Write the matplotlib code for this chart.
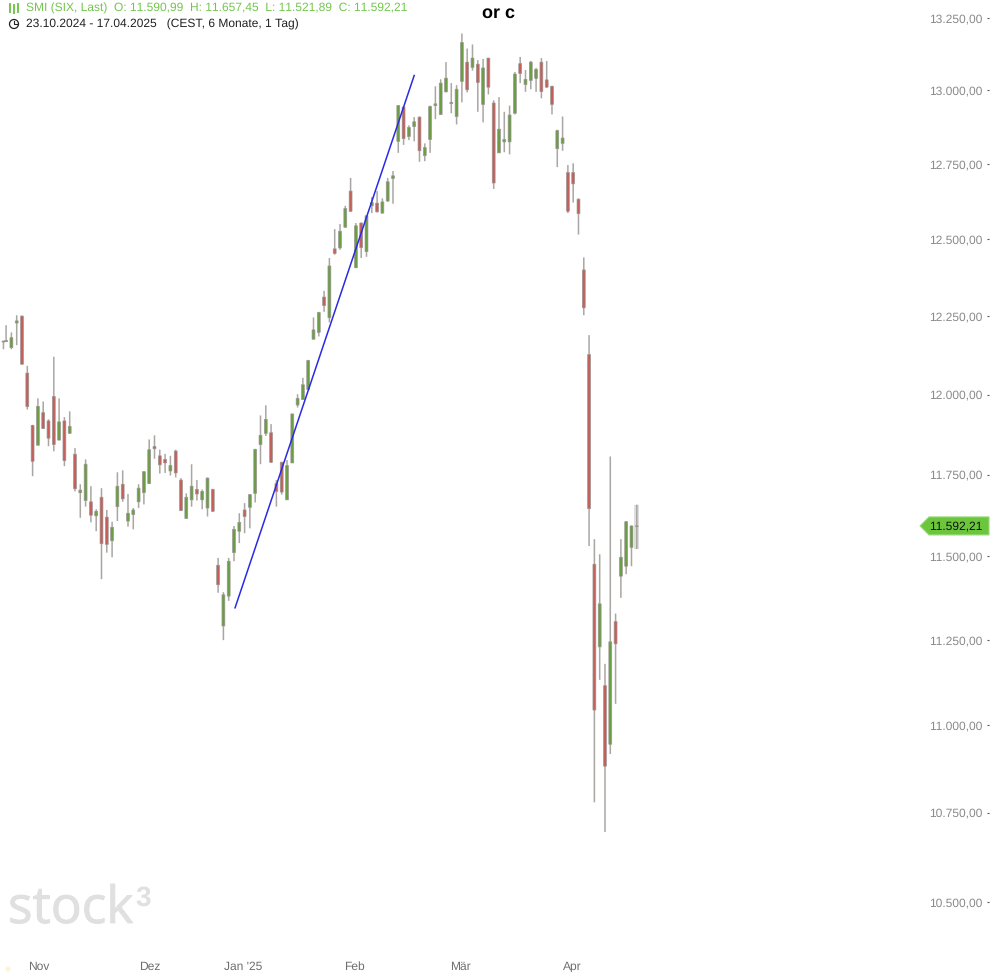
import matplotlib
matplotlib.use('Agg')
import matplotlib.pyplot as plt
import matplotlib.patheffects as pe
from matplotlib.patches import Polygon, Circle
from matplotlib.ticker import NullLocator
import numpy as np

plt.rcParams['font.family'] = ['Liberation Sans', 'DejaVu Sans']
plt.rcParams['text.hinting'] = 'no_hinting'
plt.rcParams['text.hinting_factor'] = 1

# daily candles, Oct 2024 - Apr 2025
opens = [12167,12168,12149,12228,12250,12068,11903,11841,11943,11917,11994,11857,11917,11878,11813,
         11694,11670,11666,11623,11680,11619,11547,11651,11720,11607,11627,11666,11694,11722,11837,
         11808,11797,11761,11823,11733,11615,11672,11704,11672,11647,11704,11473,11291,11380,11511,
         11576,11641,11649,11692,11843,11878,11880,11722,11788,11672,11786,11967,11984,12016,12176,
         12198,12312,12245,12469,12472,12540,12660,12407,12554,12460,12611,12620,12587,12627,12702,
         12827,12943,12843,12877,12909,12779,12833,12948,12918,12995,12955,12911,13031,13097,13079,
         13090,12952,13111,12957,12788,12825,12825,12922,13092,13020,13034,13041,13097,13036,13014,
         12802,12820,12722,12722,12633,12400,12127,11476,11229,11115,10945,11304,11440,11470,11527,
         11590.99]
highs = [12171,12221,12198,12253,12253,12091,11905,11988,11978,11922,12120,11988,11929,11947,11832,
         11720,11797,11714,11643,11708,11641,11605,11757,11763,11690,11647,11720,11759,11859,11872,
         11827,11814,11808,11827,11739,11692,11782,11733,11704,11741,11706,11495,11392,11495,11592,
         11631,11662,11690,11830,11934,11966,11907,11733,11790,11795,11939,12001,12053,12110,12246,
         12264,12332,12439,12534,12551,12611,12704,12554,12556,12578,12640,12660,12636,12704,12727,
         12950,12945,12881,12909,12911,12820,12948,13014,13038,13097,13025,13018,13196,13144,13158,
         13104,13108,13111,12966,12977,12927,12948,13063,13115,13070,13101,13077,13111,13101,13016,
         12866,12911,12747,12753,12636,12441,12189,11552,11506,11179,11806,11328,11552,11607,11594,
         11657.45]
lows = [12144,12168,12144,12157,12096,11953,11745,11841,11893,11838,11822,11857,11776,11878,11698,
        11617,11651,11603,11576,11431,11511,11497,11607,11666,11590,11582,11647,11658,11722,11799,
        11753,11755,11747,11741,11639,11615,11651,11670,11643,11621,11635,11390,11249,11366,11485,
        11540,11570,11585,11664,11782,11870,11786,11651,11688,11672,11786,11959,11984,12016,12176,
        12185,12264,12230,12450,12466,12540,12591,12407,12439,12443,12587,12589,12585,12624,12618,
        12788,12815,12831,12827,12758,12760,12788,12902,12916,12993,12922,12884,12959,12993,13068,
        12927,12891,12986,12667,12788,12790,12783,12918,13025,12995,13004,12995,12973,13009,12918,
        12740,12795,12587,12622,12516,12253,11531,10779,11132,10695,10917,11062,11375,11446,11470,
        11521.89]
closes = [12170,12172,12181,12235,12096,11962,11791,11963,11893,11863,11843,11914,11793,11900,11706,
          11702,11782,11625,11637,11538,11536,11588,11714,11675,11631,11641,11708,11759,11827,11830,
          11780,11786,11778,11755,11639,11680,11714,11690,11698,11739,11637,11414,11384,11485,11582,
          11603,11621,11688,11828,11872,11922,11788,11698,11696,11778,11939,11988,12031,12108,12206,
          12262,12284,12413,12454,12527,12602,12593,12545,12473,12578,12622,12591,12624,12691,12711,
          12948,12836,12874,12893,12795,12806,12945,12954,13025,13042,12959,13004,13165,13002,13111,
          13027,13077,13011,12687,12868,12833,12916,13056,13058,13038,13097,13072,12996,13011,12952,
          12863,12838,12593,12684,12585,12277,11645,11044,11357,10882,11244,11238,11497,11605,11592,
          11592.21]

price_ticks = [10500,10750,11000,11250,11500,11750,12000,12250,12500,12750,13000,13250]
price_labels = ['10.500,00','10.750,00','11.000,00','11.250,00','11.500,00','11.750,00',
                '12.000,00','12.250,00','12.500,00','12.750,00','13.000,00','13.250,00']
month_pos = [7.2, 28, 45.7, 66.8, 86.8, 107.8]
month_labels = ['Nov', 'Dez', "Jan '25", 'Feb', 'Mär', 'Apr']

trend_x = [44.2, 78.0]
trend_y = [11345, 13051]

GREEN = '#6a9e45'
RED = '#c4605c'
WICK = '#aaa6a3'
EDGE = '#9b9692'
W, H = 994, 972

fig = plt.figure(figsize=(W/100, H/100), dpi=100)
ax = fig.add_axes([0, 0, 987/W, 1])

x = np.arange(len(opens), dtype=float)
x[0] = 0.5  # first candle sits at the chart edge
o, h, l, c = map(np.array, (opens, highs, lows, closes))
up = c >= o

# highlight on the running candle
ax.bar(x[-1], h[-1]-l[-1], bottom=l[-1], width=0.95, color='#dedede', linewidth=0, zorder=1)

wicks = ax.vlines(x, l, h, color=WICK, linewidth=1.1, zorder=2)
wicks.set_snap(False)
bodies = ax.bar(x, np.abs(c-o), bottom=np.minimum(o, c), width=0.54,
                color=[GREEN if u else RED for u in up], edgecolor=EDGE, linewidth=0.5, zorder=3)
for b in bodies:
    b.set_snap(False)

ax.plot(trend_x, trend_y, color='#2a2ae6', linewidth=1.1, zorder=4)

ax.set_yscale('log')
ax.set_xlim(-0.151, 186.08)
ax.set_ylim(13250*np.exp(-(972-18)/3800), 13250*np.exp(18/3800))
for s in ax.spines.values():
    s.set_visible(False)

ax.yaxis.tick_right()
ax.set_yticks(price_ticks)
ax.set_yticklabels(price_labels)
ax.yaxis.set_minor_locator(NullLocator())
ax.tick_params(axis='y', length=1.5, width=0.8, color='#555555', labelcolor='#8a8a8a', labelsize=8.5, pad=-5)
for t in ax.get_yticklabels():
    t.set_ha('right')

ax.set_xticks(month_pos)
ax.set_xticklabels(month_labels)
ax.tick_params(axis='x', length=0, labelcolor='#6e6e6e', labelsize=8.7, pad=-8)

# header
LABEL_GREEN = '#74c550'
fig.text(26/W, 1-8/H, 'SMI (SIX, Last)  O: 11.590,99  H: 11.657,45  L: 11.521,89  C: 11.592,21',
         color=LABEL_GREEN, fontsize=8.55, va='center')
fig.text(26/W, 1-24/H, '23.10.2024 - 17.04.2025   (CEST, 6 Monate, 1 Tag)',
         color='#222222', fontsize=8.6, va='center')
fig.text(499/W, 1-13/H, 'or c', color='black', fontsize=13, fontweight='bold', ha='center', va='center')

# little icons in pixel coordinates
for px, y0, y1 in [(10, 4, 12), (14, 5, 13), (18, 4, 12)]:
    fig.add_artist(plt.Line2D([px/W, px/W], [1-y0/H, 1-y1/H], color=LABEL_GREEN, lw=1.4))
fig.add_artist(Circle((14, H-24), 4.5, transform=None, fill=False, ec='#222222', lw=0.9))
fig.add_artist(plt.Line2D([14/W, 14/W, 17/W], [1-21/H, 1-24.5/H, 1-24.5/H], color='#222222', lw=0.8))

# watermark
thick = [pe.withStroke(linewidth=0.6, foreground='#e0e0e0')]
fig.text(8/W, 1-923/H, 'stock', color='#e0e0e0', fontsize=37, va='baseline', family='Open Sans',
         path_effects=thick)
fig.text(135/W, 1-906/H, '3', color='#e0e0e0', fontsize=20, va='baseline', fontweight='bold')
fig.add_artist(Circle((8, H-969), 2.5, transform=None, color='#fdf3d6', lw=0))

# last price tag
fig.canvas.draw()
tag_y = ax.transData.transform((0, closes[-1]))[1]
tag = np.array([[920, tag_y], [929, tag_y+9], [989, tag_y+9], [989, tag_y-9], [929, tag_y-9]])
fig.add_artist(Polygon(tag, closed=True, transform=None, fc='#6cc63c', ec='#9ad97f', lw=0.8))
fig.text(956/W, tag_y/H, '11.592,21', color='#111111', fontsize=8.5, ha='center', va='center')

fig.savefig('out.png', dpi=100)
